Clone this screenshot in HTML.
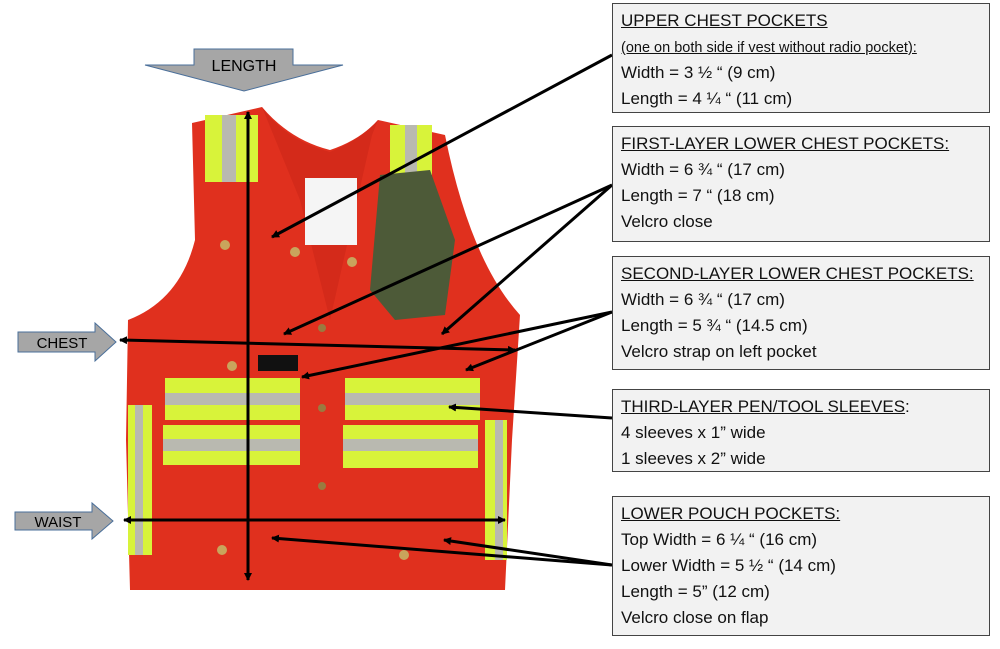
<!DOCTYPE html>
<html><head><meta charset="utf-8"><style>
body{margin:0;width:1000px;height:649px;background:#fff;position:relative;overflow:hidden;font-family:"Liberation Sans",sans-serif}
.b{position:absolute;left:612px;width:378px;background:#f2f2f2;border:1px solid #444;box-sizing:border-box;padding:4px 0 0 8px;font-size:17px;line-height:26px;color:#111}
.b u{text-decoration:underline}
.s{font-size:14.5px;line-height:18px}
svg{position:absolute;left:0;top:0}
</style></head><body>
<svg width="1000" height="649">
<defs><marker id="a" markerWidth="8" markerHeight="8" refX="7" refY="4" orient="auto-start-reverse" markerUnits="userSpaceOnUse"><path d="M0,0 L8,4 L0,8 z" fill="#000"/></marker></defs>
<path d="M192,123 L262,107 Q290,140 330,150 Q360,140 378,120 L445,135 Q470,260 520,315 L512,440 L505,590 L130,590 L126,440 L128,320 Q180,300 195,240 Z" fill="#e0301e"/>
<path d="M262,107 Q285,140 330,152 Q360,140 378,120 L372,135 L330,320 L300,200 Z" fill="#d42a1a"/>
<rect x="305" y="178" width="52" height="67" fill="#f5f5f5"/>
<rect x="205" y="115" width="53" height="67" fill="#d8f33a"/><rect x="222" y="115" width="14" height="67" fill="#b9b9b0"/>
<rect x="390" y="125" width="42" height="50" fill="#d8f33a"/><rect x="405" y="125" width="12" height="50" fill="#b9b9b0"/>
<path d="M380,175 L430,170 L455,240 L445,315 L395,320 L370,290 Z" fill="#4d5a38"/>
<rect x="165" y="378" width="135" height="42" fill="#d8f33a"/><rect x="165" y="393" width="135" height="12" fill="#b9b9b0"/>
<rect x="163" y="425" width="137" height="40" fill="#d8f33a"/><rect x="163" y="439" width="137" height="12" fill="#b9b9b0"/>
<rect x="345" y="378" width="135" height="42" fill="#d8f33a"/><rect x="345" y="393" width="135" height="12" fill="#b9b9b0"/>
<rect x="343" y="425" width="135" height="43" fill="#d8f33a"/><rect x="343" y="439" width="135" height="12" fill="#b9b9b0"/>
<rect x="128" y="405" width="24" height="150" fill="#d8f33a"/><rect x="135" y="405" width="8" height="150" fill="#b9b9b0"/>
<rect x="485" y="420" width="22" height="140" fill="#d8f33a"/><rect x="495" y="420" width="8" height="140" fill="#b9b9b0"/>
<rect x="258" y="355" width="40" height="16" fill="#111"/>
<circle cx="225" cy="245" r="5" fill="#c9a45c"/><circle cx="295" cy="252" r="5" fill="#c9a45c"/><circle cx="352" cy="262" r="5" fill="#c9a45c"/>
<circle cx="232" cy="366" r="5" fill="#c9a45c"/><circle cx="222" cy="550" r="5" fill="#c9a45c"/><circle cx="404" cy="555" r="5" fill="#c9a45c"/>
<circle cx="322" cy="328" r="4" fill="#9a7a40"/><circle cx="322" cy="408" r="4" fill="#9a7a40"/><circle cx="322" cy="486" r="4" fill="#9a7a40"/>
<polygon points="194,49 293,49 293,65 343,65 244,91 145,65 194,65" fill="#a6a6a6" stroke="#4a6f9a" stroke-width="1"/>
<polygon points="18,332 95,332 95,323 116,342 95,361 95,352 18,352" fill="#a6a6a6" stroke="#4a6f9a"/>
<polygon points="15,512 92,512 92,503 113,521 92,539 92,530 15,530" fill="#a6a6a6" stroke="#4a6f9a"/>
<g stroke="#000" stroke-width="3" fill="none">
<line x1="248" y1="112" x2="248" y2="580" marker-start="url(#a)" marker-end="url(#a)"/>
<line x1="120" y1="340" x2="515" y2="350" marker-start="url(#a)" marker-end="url(#a)"/>
<line x1="124" y1="520" x2="505" y2="520" marker-start="url(#a)" marker-end="url(#a)"/>
<line x1="612" y1="55" x2="272" y2="237" marker-end="url(#a)"/>
<line x1="612" y1="185" x2="284" y2="334" marker-end="url(#a)"/>
<line x1="612" y1="185" x2="442" y2="334" marker-end="url(#a)"/>
<line x1="612" y1="312" x2="302" y2="377" marker-end="url(#a)"/>
<line x1="612" y1="312" x2="466" y2="370" marker-end="url(#a)"/>
<line x1="612" y1="418" x2="449" y2="407" marker-end="url(#a)"/>
<line x1="612" y1="565" x2="272" y2="538" marker-end="url(#a)"/>
<line x1="612" y1="565" x2="444" y2="540" marker-end="url(#a)"/>
</g>
<text x="244" y="71" font-size="16" text-anchor="middle" font-family="Liberation Sans">LENGTH</text>
<text x="62" y="348" font-size="15" text-anchor="middle" font-family="Liberation Sans">CHEST</text>
<text x="58" y="527" font-size="15" text-anchor="middle" font-family="Liberation Sans">WAIST</text>
</svg>
<div class="b" style="top:3px;height:110px"><u>UPPER CHEST POCKETS</u><br><u class="s">(one on both side if vest without radio pocket):</u><br>Width = 3 ½ “ (9 cm)<br>Length = 4 ¼ “ (11 cm)</div>
<div class="b" style="top:126px;height:116px"><u>FIRST-LAYER LOWER CHEST POCKETS:</u><br>Width = 6 ¾ “ (17 cm)<br>Length = 7 “ (18 cm)<br>Velcro close</div>
<div class="b" style="top:256px;height:114px"><u>SECOND-LAYER LOWER CHEST POCKETS:</u><br>Width = 6 ¾ “ (17 cm)<br>Length = 5 ¾ “ (14.5 cm)<br>Velcro strap on left pocket</div>
<div class="b" style="top:389px;height:83px"><u>THIRD-LAYER PEN/TOOL SLEEVES</u>:<br>4 sleeves x 1” wide<br>1 sleeves x 2” wide</div>
<div class="b" style="top:496px;height:140px"><u>LOWER POUCH POCKETS:</u><br>Top Width = 6 ¼ “ (16 cm)<br>Lower Width = 5 ½ “ (14 cm)<br>Length = 5” (12 cm)<br>Velcro close on flap</div>
</body></html>
